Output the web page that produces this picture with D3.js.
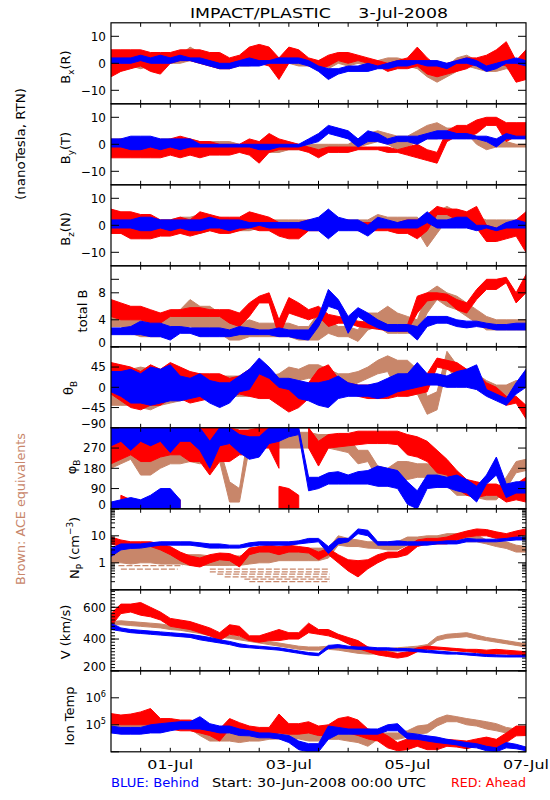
<!DOCTYPE html>
<html><head><meta charset="utf-8">
<script src="https://cdn.jsdelivr.net/npm/d3@7"></script>
<style>body{margin:0;background:#fff}</style>
</head><body>
<svg id="c" width="550" height="800"></svg>
<script>
// sample times: every 4 hours from 30-Jun-2008 00:00 UTC
const sampleHours = d3.range(0, 169, 4);
const xTickLabels = ["01-Jul","03-Jul","05-Jul","07-Jul"];
const xTickDays = [1,3,5,7];

// ---- Bx (R) [lo,hi] nT ----
const bxRed = [[-5,5],[-3,5],[-2,5],[-1,5],[-3,4],[-4,4],[0,4],
 [1,5],[1,5],[0,5],[-1,4],[-2,4],[-2,2],[0,3],
 [0,6],[0,7],[-1,6],[-6,2],[0,6],[1,5],[-1,2],
 [-2,1],[-1,3],[1,4],[0,4],[1,3],[0,2],[-1,1],
 [-3,0],[-2,1],[-2,2],[-1,6],[-4,2],[-5,-1],[-4,0],
 [-3,1],[-2,2],[0,2],[-1,3],[0,5],[-1,8],[-7,1],[-6,5]];
const bxBlue = [[0,2],[0,2],[0,2],[1,3],[0,2],[0,3],[0,2],
 [1,3],[1,2],[0,2],[-1,1],[-2,0],[-2,0],[-1,1],
 [-1,2],[-1,1],[0,1],[0,2],[0,2],[0,2],[-1,1],
 [-3,-1],[-6,-2],[-4,-2],[-3,-1],[-3,-1],[-3,0],[-2,-1],
 [-2,0],[-1,1],[-1,1],[0,1],[-1,1],[-1,1],[-2,0],
 [0,1],[0,2],[-1,1],[-3,-1],[-2,0],[0,1],[0,2],[-1,1]];
const bxBrown = [[-3,2],[-2,2],[-1,2],[-2,2],[-1,2],[0,3],[0,3],
 [0,3],[1,6],[0,4],[-1,2],[-2,1],[-2,1],[-1,2],
 [-1,1],[0,2],[0,2],[0,2],[0,2],[-1,1],[-1,1],
 [-1,1],[-2,0],[0,2],[-1,1],[0,2],[-1,1],[-1,1],
 [-1,2],[-1,2],[-1,1],[-2,1],[-5,-1],[-7,-3],[-5,-1],
 [-3,2],[-1,3],[-2,1],[-3,-1],[-3,-1],[-2,0],[-3,-1],[-2,0]];

// ---- By (T) ----
const byRed = [[-5,1],[-5,2],[-5,1],[-5,2],[-5,2],[-5,1],[-4,2],
 [-5,3],[-4,2],[-5,1],[-4,1],[-4,0],[-4,0],[-3,0],
 [-4,2],[-7,1],[-3,4],[-2,2],[-2,1],[-2,0],[-3,-1],
 [-5,-2],[-3,-1],[-3,-1],[-3,-1],[-2,-1],[-2,-1],[-2,-1],
 [-3,-1],[-3,-2],[-4,-1],[-5,0],[-6,-2],[-7,-3],[1,5],
 [3,7],[3,7],[4,9],[7,10],[7,10],[1,8],[3,8],[3,8]];
const byBlue = [[-1,2],[-1,2],[-2,3],[-2,3],[-1,3],[-2,2],[-1,2],
 [-2,2],[-1,2],[-1,0],[-1,0],[-1,0],[-1,0],[-1,0],
 [-1,0],[-2,0],[-2,0],[-1,0],[-1,0],[-1,0],[0,2],
 [1,4],[4,7],[3,6],[2,5],[-1,2],[1,5],[1,4],
 [0,2],[1,3],[1,3],[0,3],[2,4],[2,5],[2,5],
 [2,4],[2,4],[2,3],[1,3],[-1,2],[2,4],[2,3],[2,3]];
const byBrown = [[-3,2],[-3,2],[-3,2],[-3,2],[-2,2],[-2,2],[-2,2],
 [-2,2],[-2,2],[-2,1],[-2,1],[-2,1],[-2,1],[-2,0],
 [-3,0],[-3,0],[-3,0],[-3,0],[-2,0],[-2,0],[-2,0],
 [-2,0],[-2,0],[-2,0],[-2,0],[-1,2],[0,4],[1,5],
 [0,4],[-2,3],[-1,3],[1,5],[2,7],[2,8],[3,6],
 [4,6],[4,6],[0,3],[-2,2],[-1,2],[-1,1],[-1,0],[-1,0]];

// ---- Bz (N) ----
const bzRed = [[-3,6],[-3,5],[-5,5],[-5,4],[-5,4],[-4,2],[-4,2],
 [-3,3],[-4,2],[-3,5],[-2,4],[-3,3],[-3,3],[-2,3],
 [-1,5],[-2,4],[-2,3],[-4,1],[-5,0],[-5,1],[-2,2],
 [-2,2],[-1,3],[-1,2],[-1,2],[-2,1],[-2,1],[-2,1],
 [-2,1],[-3,1],[-3,2],[-5,2],[-2,4],[4,7],[4,6],
 [2,6],[1,5],[-1,7],[-6,0],[-6,-1],[-5,0],[-4,2],[-10,5]];
const bzBlue = [[-1,2],[-1,2],[-1,2],[-2,3],[-2,3],[-1,2],[-2,2],
 [-1,2],[-2,2],[-2,2],[-1,3],[-1,2],[-2,2],[-1,2],
 [-1,1],[0,1],[-1,1],[-1,1],[-1,1],[-1,1],[-2,2],
 [-2,3],[-5,6],[-2,3],[-2,2],[-2,2],[-4,0],[-1,3],
 [-1,2],[-1,1],[-1,2],[-1,2],[1,5],[-1,2],[-1,2],
 [-1,3],[-1,3],[-2,0],[-1,0],[-2,-1],[-1,1],[-1,2],[-1,1]];
const bzBrown = [[-3,2],[-3,2],[-3,2],[-3,2],[-3,2],[-2,2],[-2,2],
 [-2,3],[-2,3],[-3,4],[-2,3],[-2,3],[-2,2],[-2,2],
 [-2,2],[-1,2],[-1,2],[-1,2],[-1,2],[-1,2],[-1,2],
 [-1,2],[-1,2],[-1,2],[-1,2],[-1,2],[-1,2],[-1,4],
 [-1,3],[-1,3],[-1,3],[-2,3],[-8,-2],[-3,5],[2,7],
 [0,5],[0,4],[-1,3],[-1,2],[-1,2],[-1,2],[-1,2],[-1,1]];

// ---- total B ----
const btRed = [[4.5,7],[4,6.5],[4,6],[4,6],[3.5,5.5],[3.5,5],[4.5,5.5],
 [4.5,5.5],[4.5,5.8],[4.5,5.8],[4.5,5.5],[4.5,5.5],[3.5,5.5],[3,5],
 [4.5,6.5],[6.5,7.5],[6.5,8],[1.5,4],[5,7.3],[4.5,6.5],[4,5.5],
 [4.5,6],[3,4.8],[3.5,4.5],[3.5,4.2],[3,3.8],[2.8,3.6],[2.6,3.4],
 [2.4,3.3],[2.3,3.2],[2.3,3.2],[5,7.5],[6.8,8],[7,8],[6.8,7.8],
 [5.5,7],[5,6.5],[7,8.5],[8.5,10],[8.5,10],[9.5,10.3],[6.5,8],[8,10.7]];
const btBlue = [[1.8,2.8],[1.8,2.8],[1.8,3],[1.8,3.8],[1.5,3.5],[1.5,3.5],[1,3],
 [2,3],[2,2.8],[1.5,2.8],[1.5,2.8],[1.5,2.8],[1.5,2.5],[1.8,3],
 [1.8,2.8],[1.8,2.5],[1.8,2.5],[1.5,2.8],[1.5,2.5],[1.2,2.5],[1,2.5],
 [3,4.5],[6,8.5],[5.5,7],[2,4.5],[4.5,5.8],[3.5,5],[2.8,4],
 [2.3,3.3],[2.3,3.3],[2.3,3.3],[1,3],[3,4.5],[3.5,4.5],[3.5,4.5],
 [3,4],[2.8,3.8],[3,3.8],[2.8,3.5],[2.5,3.3],[2.5,3.3],[2.5,3.5],[2.5,3.5]];
const btBrown = [[3,5],[3,5],[2,4],[1.5,4],[1.5,4],[1.5,5],[2,5],
 [2.5,5.5],[3,7],[2.5,6],[2.5,6],[2,5],[1,4],[1,3.5],
 [1.5,4],[1.5,3.5],[1.5,3.5],[1.5,3.5],[1.5,3.5],[1,3],[1,3],
 [1,5],[2,4],[1.5,3],[1.5,3],[0.8,2.5],[2.5,5],[3,5],
 [2,6],[2,5],[2,4.5],[2,4],[5,8],[7,9],[6,8],
 [5.5,7.5],[4.5,6.5],[3.5,5.5],[2.5,4.5],[2.5,4],[2.5,4],[2.5,4],[2.5,4]];

// ---- theta_B (deg) ----
const thRed = [[-15,55],[-30,50],[-45,45],[-50,35],[-40,50],[-40,40],[-25,55],
 [-25,45],[-35,35],[-30,30],[-25,30],[-20,30],[-20,20],[-15,25],
 [-20,40],[-25,45],[-25,30],[-40,10],[-55,0],[-45,5],[-25,10],
 [-15,40],[-10,50],[-5,20],[-10,10],[-20,5],[-25,5],[-25,5],
 [-25,15],[-20,25],[-20,30],[-15,40],[-10,30],[45,65],[40,60],
 [30,55],[15,40],[0,30],[-10,10],[-25,0],[-40,-20],[-35,-20],[-70,-40]];
const thBlue = [[-10,35],[-20,35],[-35,40],[-35,30],[-40,45],[-35,40],[-30,50],
 [-30,25],[-25,20],[-20,30],[-35,15],[-45,10],[-35,10],[-10,25],
 [-5,40],[30,65],[20,45],[0,20],[-5,20],[-25,15],[-30,10],
 [-40,10],[-45,15],[-25,25],[-20,10],[-20,5],[-20,5],[-25,10],
 [-20,20],[-10,30],[-5,30],[0,55],[5,30],[5,30],[0,25],
 [0,35],[0,40],[-5,50],[-20,-5],[-30,-15],[-40,-25],[-15,10],[0,40]];
const thBrown = [[-40,45],[-40,40],[-40,40],[-45,45],[-50,40],[-40,40],[-35,40],
 [-30,30],[-25,30],[-25,30],[-20,25],[-20,25],[-20,25],[-20,25],
 [-20,25],[-20,25],[-15,25],[-10,30],[10,45],[15,40],[20,50],
 [20,50],[10,40],[0,30],[0,30],[10,35],[20,45],[30,60],
 [35,70],[-10,60],[-20,60],[-15,40],[-60,-20],[-50,-10],[45,80],
 [15,50],[5,40],[-5,30],[-10,15],[-20,5],[-20,5],[0,15],[0,15]];

// ---- phi_B (deg); "Low" arrays hold the wrapped part near 0 ----
const phRed = [[200,360],[220,360],[240,360],[210,360],[210,360],[230,360],[240,360],
 [240,360],[210,360],[210,360],[150,360],[210,360],[210,360],[240,350],
 [240,350],[270,360],[270,360],[180,330],null,null,[270,360],
 [190,300],[270,330],[275,335],[280,335],[285,345],[290,345],[290,345],
 [290,345],[285,345],[240,330],[230,320],[210,300],[160,260],[150,220],
 [90,170],[60,130],[50,120],[60,110],[60,110],[30,90],[40,110],[30,140]];
const phRedLow = [null,[0,60],[0,40],null,null,[0,60],[0,80],
 [0,40],null,null,null,null,null,null,
 null,null,null,[0,100],[0,90],[0,60],null,
 null,null,null,null,null,null,null,
 null,null,null,null,null,null,null,
 null,null,null,null,null,null,null,null];
const phBlue = [[280,360],[300,360],[260,360],[300,360],[280,360],[300,360],[250,360],
 [300,360],[300,360],[260,360],[180,300],[280,360],[290,360],[250,330],
 [220,320],[230,320],[290,360],[300,360],[320,360],[330,360],[80,140],
 [90,140],[110,160],[110,165],[110,150],[110,165],[110,170],[100,190],
 [100,180],[90,170],[20,120],[0,80],[90,150],[95,150],[95,140],
 [80,150],[70,130],[30,100],[110,150],[150,230],[50,110],[70,120],[70,120]];
const phBlueLow = [[0,30],[0,40],[0,50],[0,40],[0,60],[0,90],[0,90],
 [0,40],null,null,null,null,null,null,
 null,null,null,null,null,null,null,
 null,null,null,null,null,null,null,
 null,null,null,null,null,null,null,
 null,null,null,null,null,null,null,null];
const phBrown = [[180,300],[200,300],[220,290],[150,330],[150,340],[180,340],[200,340],
 [200,320],[210,320],[200,320],[210,280],[210,270],[30,120],[30,90],
 [270,360],[280,360],[280,360],[270,350],[270,340],[270,340],[270,340],
 [270,330],[270,330],[260,320],[250,320],[200,260],[210,260],[130,190],
 [100,180],[130,210],[130,210],[140,200],[140,200],[130,180],[100,160],
 [60,110],[60,110],[50,110],[40,90],[40,90],[90,140],[160,210],[170,220]];

// ---- Np (cm^-3) ----
const npRed = [[5,9],[4,7],[4,6],[4,6],[4,6],[3,5],[2,4],
 [1.2,2.5],[0.8,1.8],[0.7,1.5],[1,2],[1.3,2.3],[1.2,2.2],[0.7,1.6],
 [2,3.5],[2.5,4],[2.5,4.5],[2,4],[2.5,4.5],[2.5,4],[2.3,3.6],
 [1.3,2.5],[2,3.4],[1,2],[0.5,1.3],[0.3,1.2],[0.6,1.3],[1,2],
 [1.5,2.5],[1.6,2.5],[2,4],[4,7],[5,8],[5,8],[5,9],
 [7,12],[9,15],[10,18],[10,17],[8,14],[8,12],[9,15],[11,18]];
const npBlue = [[1.7,3.4],[3,5],[3.4,5],[3.5,5],[4,5.5],[4.5,6],[4.5,6],
 [4.5,6],[4.5,6],[4,5.5],[3.5,5],[3.5,5],[3.5,4.5],[3.5,4.5],
 [4,5.5],[4.5,6],[4.5,6],[4.5,6],[4.5,6],[5,6.5],[5.5,8],
 [6,8],[2.2,4],[5,8],[6,8],[12,18],[10,16],[4.5,6],
 [4.5,6],[4.5,6.5],[4.5,6],[4.5,6],[4.5,6],[5,6],[5,6.5],
 [5,6.5],[6,8],[6,7.5],[6,7.5],[6,7.5],[6.5,8],[7,9],[7,9]];
const npBrown = [[1,1.7],[1,3.4],[0.9,3.4],[1,4],[1,4],[0.9,3],[0.9,2],
 [0.9,2],[0.8,2],[0.8,2],[0.8,1.8],[0.8,1.8],[0.8,1.8],[0.8,1.8],
 [0.9,2],[1,3],[1,3],[1.2,3.4],[1.2,3.5],[1.2,3.5],[1.2,3.5],
 [1.2,3.5],[1.5,3.5],[4.5,10],[4,8],[4,7],[3.5,6],[3.4,6],
 [3,6],[3,6],[4.5,9],[4.5,9],[5,10],[5,10],[6,12],
 [7,12],[6,12],[6,11],[5,7],[4,6],[3.4,6],[2.5,4.5],[2.5,4]];
// ACE low-density floor levels (cm^-3) and their time spans (hours)
const npFloorLevel = [0.78, 0.58, 0.58, 0.46, 0.38, 0.30, 0.25, 0.20];
const npFloorFrom  = [3, 4, 40, 40, 43, 46, 54, 56];
const npFloorTo    = [29, 27, 88.5, 88.5, 88.5, 88.5, 88.5, 88.5];

// ---- V (km/s) ----
const vRed = [[480,560],[560,620],[570,620],[550,630],[540,600],[520,570],[480,530],
 [470,520],[460,510],[440,490],[420,470],[390,440],[430,490],[420,480],
 [390,420],[380,420],[390,440],[390,460],[400,440],[400,440],[440,500],
 [430,460],[420,460],[400,430],[370,410],[340,390],[320,350],[300,330],
 [290,320],[280,310],[290,320],[320,345],[335,355],[335,350],[330,345],
 [325,340],[320,335],[315,335],[300,330],[305,335],[305,330],[300,325],[295,320]];
const vBlue = [[460,500],[450,470],[440,460],[435,455],[430,450],[425,445],[420,440],
 [415,435],[410,430],[395,420],[385,410],[375,395],[365,385],[350,370],
 [345,360],[340,355],[335,350],[330,345],[320,335],[310,325],[300,315],
 [295,310],[340,360],[345,365],[340,355],[335,350],[335,350],[330,345],
 [330,345],[325,340],[325,340],[320,335],[315,330],[310,325],[305,320],
 [305,315],[300,312],[295,308],[290,302],[288,300],[287,298],[287,298],[287,298]];
const vBrown = [[490,510],[490,515],[485,510],[480,505],[475,500],[470,495],[460,485],
 [455,480],[445,470],[435,455],[420,445],[410,435],[405,425],[395,415],
 [385,405],[375,395],[365,385],[355,375],[345,365],[335,355],[330,350],
 [330,350],[335,355],[330,350],[320,345],[310,335],[305,325],[305,325],
 [320,340],[325,345],[330,350],[335,355],[345,365],[390,415],[405,430],
 [410,435],[415,440],[400,425],[390,410],[380,400],[370,390],[360,380],[350,370]];

// ---- Ion temperature (K) ----
const tRed = [[1.1e5,2.6e5],[1e5,2.3e5],[1e5,2.5e5],[1e5,3e5],[1e5,4e5],[7e4,1.7e5],[7e4,1.7e5],
 [6e4,1.5e5],[6e4,1.5e5],[5e4,1.3e5],[4e4,1e5],[2.5e4,7e4],[7e4,1.7e5],[5e4,1.2e5],
 [4.5e4,9e4],[4e4,8e4],[3.5e4,8e4],[5e4,2.5e5],[4.5e4,1.1e5],[4.5e4,1.1e5],[5e4,1.3e5],
 [4e4,9e4],[4e4,1e5],[5e4,1.7e5],[5e4,2e5],[4e4,1.5e5],[3e4,7e4],[2.5e4,6e4],
 [1.4e4,3.9e4],[1.1e4,2.2e4],[1.2e4,3e4],[1.6e4,3.9e4],[1.2e4,2.9e4],[1.2e4,2.5e4],[1.6e4,2.9e4],
 [1.5e4,2.7e4],[1.3e4,2.5e4],[1.6e4,3e4],[1.6e4,3.5e4],[1.2e4,2.9e4],[2.2e4,5e4],[3.9e4,9e4],[4e4,9e4]];
const tBlue = [[5e4,9e4],[4.5e4,8e4],[4.5e4,8e4],[4.5e4,8e4],[5e4,1e5],[5e4,1.1e5],[6e4,1.2e5],
 [7e4,1.3e5],[7e4,1.3e5],[7e4,2e5],[6e4,1.1e5],[5e4,9e4],[5e4,9e4],[4e4,7e4],
 [3.9e4,6e4],[3.3e4,5e4],[3.3e4,5e4],[3e4,4.5e4],[2.2e4,4e4],[1.2e4,2.5e4],[1e4,2e4],
 [1e4,2e4],[2.9e4,9e4],[4.5e4,8e4],[4.5e4,7e4],[4.5e4,7e4],[4.5e4,7e4],[4.5e4,7e4],
 [6e4,1e5],[6e4,1.1e5],[3e4,5e4],[2.9e4,4.5e4],[2.5e4,3.9e4],[2.2e4,3.5e4],[2e4,2.9e4],
 [1.8e4,2.5e4],[1.5e4,2.2e4],[1.4e4,2e4],[1.1e4,1.6e4],[1e4,1.4e4],[1.4e4,2.2e4],[1.3e4,1.9e4],[1.1e4,1.5e4]];
const tBrown = [[8e4,1.7e5],[8e4,1.7e5],[7e4,1.7e5],[8e4,1.7e5],[8e4,1.6e5],[7e4,1.5e5],[7e4,1.5e5],
 [7e4,1.4e5],[7e4,1.4e5],[4e4,1e5],[2.5e4,7e4],[2.5e4,6e4],[2.5e4,5e4],[2.2e4,4.5e4],
 [2.5e4,4.5e4],[2.5e4,4.5e4],[2.9e4,5e4],[3e4,7e4],[3e4,8e4],[3e4,6e4],[2.5e4,5e4],
 [2.5e4,5e4],[2.9e4,5e4],[2.9e4,5e4],[2.5e4,5e4],[2.2e4,4.5e4],[1.6e4,2.9e4],[2.9e4,5e4],
 [2.9e4,5e4],[2.9e4,5e4],[3.5e4,6e4],[4.5e4,9e4],[5e4,1e5],[9e4,1.7e5],[1.3e5,2.3e5],
 [1.3e5,2e5],[1e5,1.7e5],[9e4,1.5e5],[7e4,1.3e5],[6e4,1.1e5],[5e4,8e4],[4.5e4,7e4],[4e4,7e4]];

// ================= drawing =================
const RED = "#ff0000", BLUE = "#0000ff", BROWN = "#c8866a";
const FONT = "DejaVu Sans, Verdana, sans-serif";
const L = 111, R = 526, TOP = 22.8, PH = 81;
const t0 = Date.UTC(2008, 5, 30);
const tAt = h => new Date(t0 + h * 3600e3);
const x = d3.scaleUtc().domain([tAt(0), tAt(168)]).range([L, R]);

const svg = d3.select("#c").attr("font-family", FONT);
svg.append("rect").attr("width", 550).attr("height", 800).attr("fill", "#fff");

function rich(sel, parts, size) {
  let off = 0;
  parts.forEach(([s, kind]) => {
    let target = 0, fs = size;
    if (kind === "sub") { target = size * 0.32; fs = size * 0.68; }
    if (kind === "sup") { target = -size * 0.45; fs = size * 0.68; }
    sel.append("tspan").text(s).attr("font-size", fs).attr("dy", target - off);
    off = target;
  });
}
const num = v => (v < 0 ? "\u2212" + Math.abs(v) : String(v));
const logMinor = (a, b) => { const r = []; for (let e = a; e < b; e++) for (let m = 2; m <= 9; m++) r.push(m * Math.pow(10, e)); return r; };

const panels = [
  { y: d3.scaleLinear().domain([-15, 15]), ticks: [-10, 0, 10], labels: [-10, 0, 10],
    title: [["B"], ["x", "sub"], ["(R)"]], tx: 70, ty: 67,
    series: [[bxBrown, BROWN], [bxRed, RED], [bxBlue, BLUE]] },
  { y: d3.scaleLinear().domain([-15, 15]), ticks: [-10, 0, 10], labels: [-10, 0, 10],
    title: [["B"], ["y", "sub"], ["(T)"]], tx: 70, ty: 148,
    series: [[byBrown, BROWN], [byRed, RED], [byBlue, BLUE]] },
  { y: d3.scaleLinear().domain([-15, 15]), ticks: [-10, 0, 10], labels: [-10, 0, 10],
    title: [["B"], ["z", "sub"], ["(N)"]], tx: 70, ty: 229,
    series: [[bzBrown, BROWN], [bzRed, RED], [bzBlue, BLUE]] },
  { y: d3.scaleLinear().domain([0, 12]), ticks: [0, 4, 8, 10], labels: [0, 4, 8],
    title: [["total B"]], tx: 87, ty: 311,
    series: [[btBrown, BROWN], [btRed, RED], [btBlue, BLUE]] },
  { y: d3.scaleLinear().domain([-90, 90]), ticks: [-90, -45, 0, 45, 90], labels: [-90, -45, 0, 45],
    title: [["\u03b8"], ["B", "sub"]], tx: 73, ty: 388,
    series: [[thBrown, BROWN], [thRed, RED], [thBlue, BLUE]] },
  { y: d3.scaleLinear().domain([0, 360]), ticks: [0, 90, 180, 270, 360], labels: [0, 90, 180, 270],
    title: [["\u03c6"], ["B", "sub"]], tx: 76, ty: 467,
    series: [[phBrown, BROWN], [phRed, RED], [phRedLow, RED], [phBlue, BLUE], [phBlueLow, BLUE]] },
  { y: d3.scaleLog().domain([0.1, 100]), ticks: [0.1, 1, 10, 100], labels: [1, 10], minor: logMinor(-1, 2),
    title: [["N"], ["P", "sub"], [" (cm"], ["\u22123", "sup"], [")"]], tx: 79, ty: 548,
    series: [[npBrown, BROWN], [npRed, RED], [npBlue, BLUE]] },
  { y: d3.scaleLinear().domain([200, 710]), ticks: [200, 400, 600], labels: [200, 400, 600],
    minor: d3.range(220, 710, 20),
    title: [["V (km/s)"]], tx: 70, ty: 632,
    series: [[vBrown, BROWN], [vRed, RED], [vBlue, BLUE]] },
  { y: d3.scaleLog().domain([1e4, 1e7]), ticks: [1e4, 1e5, 1e6, 1e7], labels: [1e5, 1e6], exp: true,
    title: [["Ion Temp"]], tx: 74, ty: 716,
    series: [[tBrown, BROWN], [tRed, RED], [tBlue, BLUE]] }
];

panels.forEach((p, k) => {
  const top = TOP + k * PH, bot = top + PH;
  p.y.range([bot, top]);
  const clipId = "clip" + k;
  svg.append("clipPath").attr("id", clipId).append("rect")
    .attr("x", L).attr("y", top).attr("width", R - L).attr("height", PH);
  const g = svg.append("g").attr("clip-path", `url(#${clipId})`);

  const area = d3.area()
    .defined(d => d != null)
    .x((d, i) => x(tAt(sampleHours[i])))
    .y0(d => p.y(d[0]))
    .y1(d => p.y(d[1]));
  p.series.forEach(([data, col]) => {
    g.append("path").attr("d", area(data)).attr("fill", col)
      .attr("stroke", col).attr("stroke-width", 1).attr("stroke-linejoin", "round");
  });

  if (k === 6) {
    npFloorLevel.forEach((lv, i) => {
      g.append("line")
        .attr("x1", x(tAt(npFloorFrom[i]))).attr("x2", x(tAt(npFloorTo[i])))
        .attr("y1", p.y(lv)).attr("y2", p.y(lv))
        .attr("stroke", BROWN).attr("stroke-width", 1.3).attr("stroke-dasharray", "6,2");
    });
  }

  // frame
  svg.append("rect").attr("x", L).attr("y", top).attr("width", R - L).attr("height", PH)
    .attr("fill", "none").attr("stroke", "#000").attr("stroke-width", 1.2);

  // y ticks (both sides, inward)
  const tk = svg.append("g").attr("stroke", "#000").attr("stroke-width", 1);
  p.ticks.forEach(v => {
    const yy = p.y(v);
    tk.append("line").attr("x1", L).attr("x2", L + 8).attr("y1", yy).attr("y2", yy);
    tk.append("line").attr("x1", R - 8).attr("x2", R).attr("y1", yy).attr("y2", yy);
  });
  (p.minor || []).forEach(v => {
    const yy = p.y(v);
    if (yy < top || yy > bot) return;
    tk.append("line").attr("x1", L).attr("x2", L + 4).attr("y1", yy).attr("y2", yy);
    tk.append("line").attr("x1", R - 4).attr("x2", R).attr("y1", yy).attr("y2", yy);
  });
  // x ticks every 12 h
  d3.range(12, 168, 12).forEach(h => {
    const xx = x(tAt(h));
    tk.append("line").attr("x1", xx).attr("x2", xx).attr("y1", bot).attr("y2", bot - 4);
    tk.append("line").attr("x1", xx).attr("x2", xx).attr("y1", top).attr("y2", top + 4);
  });

  // y tick labels
  p.labels.forEach(v => {
    let yy = p.y(v) + 4.3;
    if (p.y(v) > bot - 1) yy -= 4.5;
    const t = svg.append("text").attr("x", 106).attr("y", yy).attr("text-anchor", "end")
      .attr("font-size", 12).attr("fill", "#000");
    if (p.exp) rich(t, [["10"], [String(Math.round(Math.log10(v))), "sup"]], 12);
    else t.text(num(v));
  });

  // axis title (rotated)
  const tt = svg.append("text").attr("transform", `translate(${p.tx},${p.ty}) rotate(-90)`)
    .attr("text-anchor", "middle").attr("font-size", 13).attr("fill", "#000");
  rich(tt, p.title, 13);
});

// x tick labels under last panel
xTickDays.forEach((d, i) => {
  svg.append("text").attr("x", x(tAt(d * 24))).attr("y", 769).attr("text-anchor", "middle")
    .attr("font-size", 12.5).attr("textLength", 46).attr("lengthAdjust", "spacingAndGlyphs")
    .text(xTickLabels[i]);
});

// title
svg.append("text").attr("x", 319).attr("y", 17.5).attr("text-anchor", "middle")
  .attr("font-size", 14.5).attr("textLength", 258).attr("lengthAdjust", "spacingAndGlyphs")
  .attr("xml:space", "preserve").style("white-space", "pre")
  .text("IMPACT/PLASTIC     3-Jul-2008");

// side labels
svg.append("text").attr("transform", "translate(25,144) rotate(-90)").attr("text-anchor", "middle")
  .attr("font-size", 13).attr("textLength", 112).attr("lengthAdjust", "spacingAndGlyphs")
  .text("(nanoTesla, RTN)");
svg.append("text").attr("transform", "translate(25,509) rotate(-90)").attr("text-anchor", "middle")
  .attr("font-size", 13).attr("fill", BROWN).attr("textLength", 152).attr("lengthAdjust", "spacingAndGlyphs")
  .text("Brown: ACE equivalents");

// bottom legend
svg.append("text").attr("x", 111).attr("y", 786.5).attr("font-size", 13).attr("fill", BLUE)
  .attr("textLength", 88).attr("lengthAdjust", "spacingAndGlyphs").text("BLUE: Behind");
svg.append("text").attr("x", 212).attr("y", 786.5).attr("font-size", 13).attr("fill", "#000")
  .attr("textLength", 214).attr("lengthAdjust", "spacingAndGlyphs").text("Start: 30-Jun-2008 00:00 UTC");
svg.append("text").attr("x", 526).attr("y", 786.5).attr("text-anchor", "end").attr("font-size", 13).attr("fill", RED)
  .attr("textLength", 75).attr("lengthAdjust", "spacingAndGlyphs").text("RED: Ahead");
</script>
</body></html>
